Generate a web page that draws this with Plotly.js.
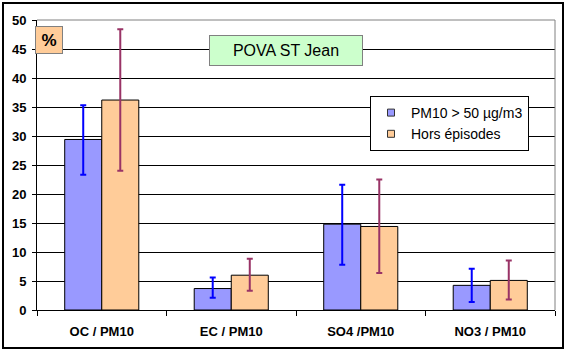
<!DOCTYPE html>
<html><head><meta charset="utf-8">
<script src="https://cdn.plot.ly/plotly-3.0.1.min.js"></script>
<style>body{margin:0;background:#fff}#c{width:567px;height:352px}</style>
</head><body><div id="c"></div>
<script>
const categories = ["OC / PM10", "EC / PM10", "SO4 /PM10", "NO3 / PM10"];
const seriesNames = ["PM10 > 50 µg/m3", "Hors épisodes"];
const episodeValues = [29.4, 3.7, 14.8, 4.25];
const episodeUpper = [35.3, 5.6, 21.6, 7.1];
const episodeLower = [23.3, 2.1, 7.8, 1.4];
const horsValues = [36.2, 6.0, 14.4, 5.1];
const horsUpper = [48.4, 8.85, 22.5, 8.55];
const horsLower = [24.0, 3.3, 6.4, 1.8];
const yTicks = [0,5,10,15,20,25,30,35,40,45,50];

const W=567,H=352,L=37,R=12,T=20,B=42;
const pw=W-L-R, ph=H-T-B;
const px = x => (x-L)/pw;
const py = y => (H-B-y)/ph;

const font = "Liberation Sans, Arial, sans-serif";
const fills = ['#9999FF','#FFCC99'];
function trace(name, vals, up, lo, fill, ecol){
  return {type:'bar', name:name, x:categories, y:vals, showlegend:false,
    marker:{color:fill, line:{color:'#000', width:1}},
    error_y:{type:'data', symmetric:false,
      array: up.map((u,i)=>u-vals[i]), arrayminus: lo.map((l,i)=>vals[i]-l),
      color:ecol, thickness:2, width:3}};
}
function legendEntry(name, fill){
  return {type:'scatter', mode:'markers', name:name, x:[null], y:[null], showlegend:true,
    marker:{symbol:'square', size:7, color:fill, line:{color:'#333', width:1}}};
}
const data=[trace(seriesNames[0],episodeValues,episodeUpper,episodeLower,fills[0],'#0000FF'),
            trace(seriesNames[1],horsValues,horsUpper,horsLower,fills[1],'#993366'),
            legendEntry(seriesNames[0],fills[0]), legendEntry(seriesNames[1],fills[1])];
const layout={
  width:W,height:H,margin:{l:L,r:R,t:T,b:B},
  paper_bgcolor:'#fff',plot_bgcolor:'#fff',
  barmode:'group',bargap:0.428,bargroupgap:0,
  font:{family:font,color:'#000'},
  showlegend:true,
  legend:{x:px(370),y:py(96),xanchor:'left',yanchor:'top',bgcolor:'#fff',bordercolor:'#000',borderwidth:1,
    font:{size:14,family:font},tracegroupgap:0,itemwidth:30,traceorder:'normal'},
  xaxis:{type:'category',tickson:'boundaries',ticks:'outside',ticklen:5,tickcolor:'#000',
    showline:true,linecolor:'#000',linewidth:1,showgrid:false,ticklabelstandoff:9,
    tickfont:{size:13,family:font,weight:'bold'},fixedrange:true},
  yaxis:{range:[0,50],tickvals:yTicks,ticktext:yTicks.map(String),ticks:'outside',ticklen:4,tickcolor:'#000',
    showline:true,linecolor:'#000',linewidth:1,showgrid:true,gridcolor:'#000',gridwidth:1,zeroline:false,
    ticklabelstandoff:3,
    tickfont:{size:13,family:font,weight:'bold'},fixedrange:true},
  shapes:[
    {type:'rect',xref:'paper',yref:'paper',x0:px(3),x1:px(563),y0:py(348),y1:py(3),line:{color:'#000',width:2},layer:'below'},
    {type:'line',xref:'paper',yref:'paper',x0:0,x1:1,y0:1,y1:1,line:{color:'#808080',width:1},layer:'above'},
    {type:'line',xref:'paper',yref:'paper',x0:1,x1:1,y0:0,y1:1,line:{color:'#808080',width:1},layer:'above'}
  ],
  annotations:[
    {xref:'paper',yref:'paper',x:px(48.5),y:py(40),xanchor:'center',yanchor:'middle',showarrow:false,
     text:'<b>%</b>',font:{size:17,family:font},bgcolor:'#FFCC99',bordercolor:'#808080',borderwidth:1,
     width:26,height:26,borderpad:0},
    {xref:'paper',yref:'paper',x:px(286),y:py(50.5),xanchor:'center',yanchor:'middle',showarrow:false,
     text:'POVA ST Jean',font:{size:16,family:font},bgcolor:'#CCFFCC',bordercolor:'#808080',borderwidth:1,
     width:152,height:29,borderpad:0}
  ]
};
Plotly.newPlot('c',data,layout,{displayModeBar:false,staticPlot:true});
</script></body></html>
